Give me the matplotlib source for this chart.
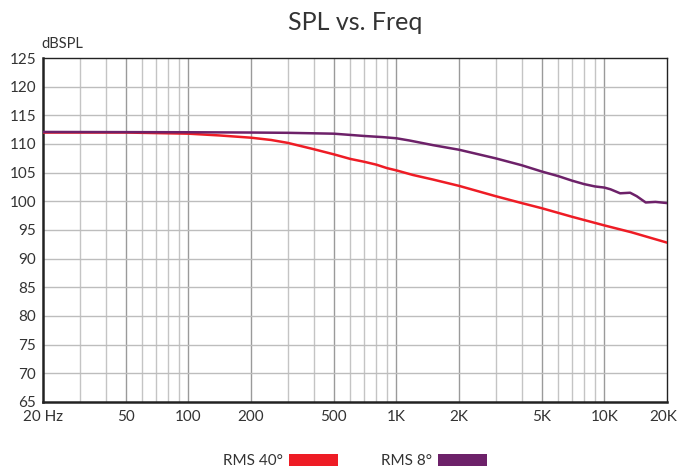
#!/usr/bin/env python3
"""SPL vs. Freq response plot."""

import matplotlib

matplotlib.use("Agg")
import matplotlib.pyplot as plt
from matplotlib.patches import Patch
from matplotlib.ticker import FixedLocator, NullFormatter
from matplotlib.transforms import ScaledTranslation

# RMS 40 deg (red)
FREQ_40 = [20, 50, 100, 140, 200, 250, 300, 400, 500, 600, 700, 800, 900, 1000,
           1200, 1500, 2000, 3000, 4000, 5000, 7000, 10000, 13500, 20000]
SPL_40 = [112.0, 112.0, 111.8, 111.5, 111.1, 110.7, 110.2, 109.1, 108.2, 107.4, 106.9, 106.4, 105.8, 105.4,
          104.6, 103.8, 102.7, 100.9, 99.7, 98.8, 97.3, 95.8, 94.6, 92.8]

# RMS 8 deg (purple)
FREQ_8 = [20, 100, 200, 300, 500, 700, 860, 1000, 1160, 1500, 2000, 3000, 4000, 5000, 6000,
          7000, 8000, 9000, 10000, 10700, 11900, 13300, 14300, 15800, 17600, 20000]
SPL_8 = [112.1, 112.05, 112.0, 111.95, 111.8, 111.4, 111.2, 111.0, 110.6, 109.8, 109.0, 107.5, 106.3, 105.2, 104.4,
         103.6, 103.0, 102.6, 102.4, 102.1, 101.4, 101.5, 100.9, 99.8, 99.9, 99.7]

X_TICKS = [20, 50, 100, 200, 500, 1000, 2000, 5000, 10000, 20000]
X_LABELS = ["20 Hz", "50", "100", "200", "500", "1K", "2K", "5K", "10K", "20K"]
Y_TICKS = list(range(65, 126, 5))

RED = "#ee1c25"
PURPLE = "#6d2169"
TEXT = "#333333"

plt.rcParams["font.family"] = ["Lato", "DejaVu Sans"]

fig = plt.figure(figsize=(6.77, 4.72), dpi=100)
ax = fig.add_axes([43 / 677, 70 / 472, 624 / 677, 344 / 472])
center_x = (43 + 624 / 2) / 677

ax.set_xscale("log")
ax.set_xlim(20, 20000)
ax.set_ylim(65, 125)

# vertical grid at every 1-2-..-9 step
minor = [m * 10 ** d for d in range(1, 5) for m in range(1, 10)]
minor = [f for f in minor if 20 < f < 20000]
for f in minor:
    color = "#9a9a9a" if f in X_TICKS else "#c4c4c4"
    ax.axvline(f, color=color, linewidth=1.0, zorder=1)
for y in Y_TICKS[1:-1]:
    ax.axhline(y, color="#bdbdbd", linewidth=1.0, zorder=1)

ax.plot(FREQ_40, SPL_40, color=RED, linewidth=1.8, zorder=3)
ax.plot(FREQ_8, SPL_8, color=PURPLE, linewidth=1.8, zorder=3)

ax.xaxis.set_major_locator(FixedLocator(X_TICKS))
ax.set_xticklabels(X_LABELS)
ax.xaxis.set_minor_formatter(NullFormatter())
ax.set_yticks(Y_TICKS)
ax.tick_params(axis="both", which="both", length=0, labelsize=11, colors=TEXT, pad=6)
ax.tick_params(axis="y", pad=5)

# keep the last label inside the canvas
last = ax.get_xticklabels()[-1]
last.set_transform(last.get_transform() + ScaledTranslation(-4 / 100, 0, fig.dpi_scale_trans))

for side in ["top", "right"]:
    ax.spines[side].set_linewidth(1.0)
    ax.spines[side].set_color("#222222")
for side in ["left", "bottom"]:
    ax.spines[side].set_linewidth(1.8)
    ax.spines[side].set_color("#222222")

fig.text(center_x, 1 - 22 / 472, "SPL vs. Freq", ha="center", va="center", fontsize=18, color=TEXT)
fig.text(41 / 677, 1 - 44 / 472, "dBSPL", ha="left", va="center", fontsize=10.5, color=TEXT)

handles = [Patch(facecolor=RED, label="RMS 40°"), Patch(facecolor=PURPLE, label="RMS 8°")]
fig.legend(handles=handles, loc="center", bbox_to_anchor=(center_x, 11 / 472), ncol=2, frameon=False,
           markerfirst=False, handlelength=3.2, handleheight=0.8, handletextpad=0.4,
           columnspacing=2.8, fontsize=11, labelcolor=TEXT)

fig.savefig("out.png", dpi=100)
